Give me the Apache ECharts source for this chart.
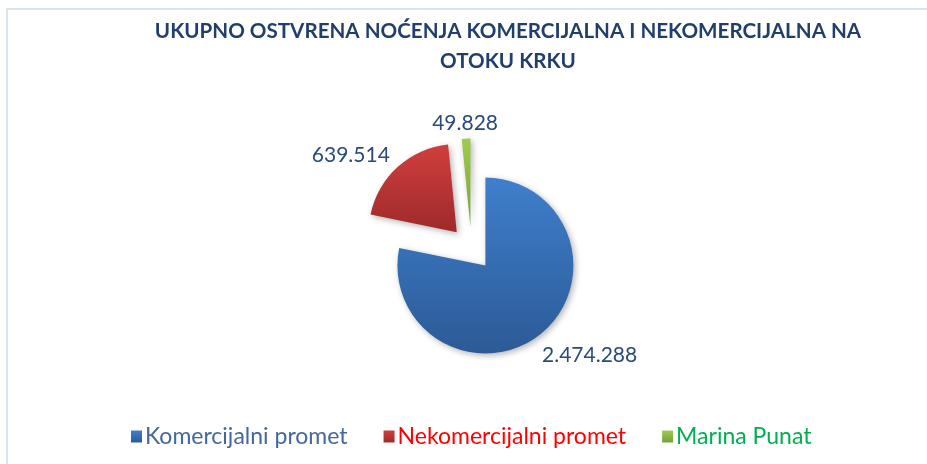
<!DOCTYPE html>
<html>
<head>
<meta charset="utf-8">
<script src="https://cdn.jsdelivr.net/npm/echarts@6/dist/echarts.min.js"></script>
<style>
html, body { margin: 0; padding: 0; background: #fff; }
#frame { position: absolute; left: 6px; top: 8px; width: 930px; height: 470px;
  border-left: 2px solid #d9e3f2; border-top: 2px solid #d9e3f2; }
#chart { position: absolute; left: 0; top: 0; width: 927px; height: 464px; }
</style>
</head>
<body>
<div id="frame"></div>
<div id="chart"></div>
<script>
var categories = ['Komercijalni promet', 'Nekomercijalni promet', 'Marina Punat'];
var values = [2474288, 639514, 49828];
var valueLabels = ['2.474.288', '639.514', '49.828'];

var topColors = ['#3f7fcc', '#cf3f3d', '#a0cc4c'];
var bottomColors = ['#2c5a96', '#9e2a2a', '#74a03a'];
var legendColors = ['#44689c', '#ff0000', '#00b050'];
// label nudges (dx, dy)
var labelShift = [[-4, 22], [-3, -12], [4, -15]];

var grad = function (i) {
	return {
		type: 'linear', x: 0, y: 0, x2: 0, y2: 1,
		colorStops: [{offset: 0, color: topColors[i]}, {offset: 1, color: bottomColors[i]}]
	};
};

var pieData = [];
var legendData = [];
for (var i = 0; i < categories.length; i++) {
	pieData.push({
		name: categories[i],
		value: values[i],
		selected: true,
		itemStyle: {color: grad(i)}
	});
	legendData.push({name: categories[i], textStyle: {color: legendColors[i]}});
}

var myChart = echarts.init(document.getElementById('chart'));
var option = {
	animation: false,
	title: {
		text: 'UKUPNO OSTVRENA NOĆENJA KOMERCIJALNA I NEKOMERCIJALNA NA\nOTOKU KRKU',
		left: 503,
		top: 11,
		textAlign: 'center',
		textStyle: {
			fontFamily: 'Lato',
			fontWeight: 'bold',
			fontSize: 20.6,
			lineHeight: 30,
			color: '#213f6e'
		}
	},
	legend: {
		data: legendData,
		left: 126,
		top: 420,
		itemWidth: 11,
		itemHeight: 12,
		itemGap: 36,
		selectedMode: false,
		icon: 'rect',
		textStyle: {fontFamily: 'Lato', fontSize: 23, padding: [0, 0, 0, -2]}
	},
	series: [{
		type: 'pie',
		center: [471.5, 248.5],
		radius: 88,
		startAngle: 90,
		clockwise: true,
		selectedMode: 'multiple',
		selectedOffset: 22,
		avoidLabelOverlap: false,
		itemStyle: {
			shadowBlur: 6,
			shadowOffsetX: 2,
			shadowOffsetY: 2,
			shadowColor: 'rgba(0,0,0,0.3)'
		},
		emphasis: {disabled: true},
		select: {itemStyle: {}},
		label: {
			show: true,
			position: 'outside',
			fontFamily: 'Lato',
			fontSize: 21,
			color: '#294a7b',
			formatter: function (p) { return valueLabels[p.dataIndex]; }
		},
		labelLine: {show: false, length: 0, length2: 0},
		labelLayout: function (p) {
			var s = labelShift[p.dataIndex];
			var out = {dx: s[0], dy: s[1]};
			if (p.dataIndex === 2) out.align = 'center';
			return out;
		},
		data: pieData
	}]
};
myChart.setOption(option);
</script>
</body>
</html>
